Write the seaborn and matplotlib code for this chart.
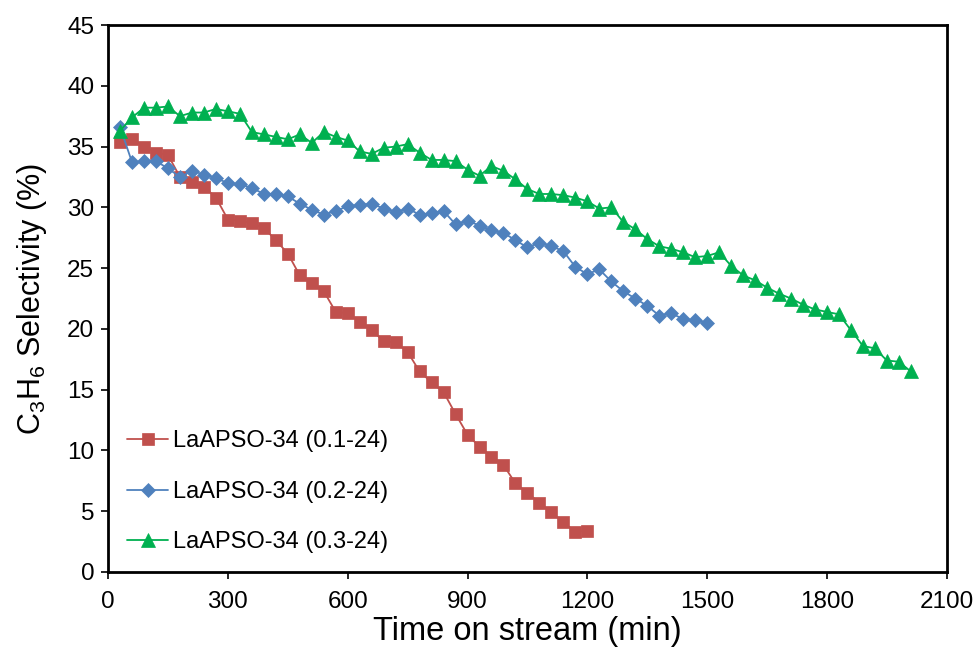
import numpy as np
import pandas as pd
import matplotlib
matplotlib.use("Agg")
import matplotlib.pyplot as plt
import seaborn as sns

# Time on stream (min), sampled every 30 min
time_01 = list(range(30, 1201, 30))
time_02 = list(range(30, 1501, 30))
time_03 = list(range(30, 2011, 30))

# C3H6 selectivity (%)
sel_01 = [35.4, 35.6, 35.0, 34.5, 34.3, 32.5, 32.1, 31.7, 30.8, 29.0,
          28.9, 28.7, 28.3, 27.3, 26.2, 24.4, 23.8, 23.1, 21.4, 21.3,
          20.6, 19.9, 19.0, 18.9, 18.1, 16.5, 15.6, 14.8, 13.0, 11.3,
          10.3, 9.5, 8.8, 7.3, 6.5, 5.7, 4.9, 4.1, 3.3, 3.4]
sel_02 = [36.6, 33.7, 33.8, 33.8, 33.2, 32.5, 33.0, 32.7, 32.4, 32.0,
          31.9, 31.6, 31.1, 31.1, 30.9, 30.3, 29.8, 29.4, 29.7, 30.1,
          30.2, 30.3, 29.9, 29.6, 29.9, 29.4, 29.5, 29.7, 28.6, 28.9,
          28.5, 28.1, 27.9, 27.3, 26.7, 27.1, 26.8, 26.4, 25.1, 24.5,
          24.9, 23.9, 23.1, 22.5, 21.9, 21.1, 21.3, 20.8, 20.7, 20.5]
sel_03 = [36.3, 37.4, 38.2, 38.2, 38.3, 37.5, 37.8, 37.8, 38.1, 37.9,
          37.7, 36.2, 36.0, 35.8, 35.6, 36.0, 35.3, 36.2, 35.8, 35.5,
          34.6, 34.4, 34.9, 35.0, 35.2, 34.5, 33.9, 33.9, 33.8, 33.1,
          32.6, 33.4, 33.0, 32.3, 31.5, 31.1, 31.1, 31.0, 30.8, 30.5,
          29.9, 30.0, 28.8, 28.2, 27.4, 26.8, 26.6, 26.3, 25.9, 26.0,
          26.3, 25.2, 24.4, 24.0, 23.4, 22.9, 22.5, 22.0, 21.6, 21.4,
          21.2, 19.9, 18.6, 18.4, 17.4, 17.3, 16.5]

labels = ["LaAPSO-34 (0.1-24)", "LaAPSO-34 (0.2-24)", "LaAPSO-34 (0.3-24)"]
colors = ["#C0504D", "#4F81BD", "#00B050"]
markers = ["s", "D", "^"]
msizes = [8.5, 7.5, 10]

sns.set_style("white")
plt.rcParams["font.family"] = ["Liberation Sans", "DejaVu Sans"]
plt.rcParams["mathtext.fontset"] = "custom"
plt.rcParams["mathtext.rm"] = "Liberation Sans"
plt.rcParams["mathtext.it"] = "Liberation Sans:italic"
plt.rcParams["mathtext.bf"] = "Liberation Sans:bold"
plt.rcParams["text.color"] = "black"
plt.rcParams["axes.labelcolor"] = "black"

fig = plt.figure(figsize=(9.74, 6.5), dpi=100)
ax = fig.add_axes([0.111, 0.12, 0.861, 0.8415])

series = [(time_01, sel_01), (time_02, sel_02), (time_03, sel_03)]
for (t, s), lab, c, m, ms in zip(series, labels, colors, markers, msizes):
    df = pd.DataFrame({"time": t, "sel": s})
    sns.lineplot(data=df, x="time", y="sel", ax=ax, color=c, marker=m,
                 markersize=ms, markeredgecolor=c, markeredgewidth=0.5,
                 linewidth=1.3, label=lab)

ax.set_xlim(0, 2100)
ax.set_ylim(0, 45)
ax.set_xticks(np.arange(0, 2101, 300))
ax.set_yticks(np.arange(0, 46, 5))
ax.tick_params(axis="both", direction="out", length=5, width=1.2,
               labelsize=17.5, colors="black", bottom=True, left=True)
ax.tick_params(axis="x", pad=9)
ax.tick_params(axis="y", pad=5)
for sp in ax.spines.values():
    sp.set_visible(True)
    sp.set_color("black")
    sp.set_linewidth(2)

ax.set_xlabel("Time on stream (min)", fontsize=23.5, labelpad=2)
ax.set_ylabel(r"C$_\mathrm{3}$H$_\mathrm{6}$ Selectivity (%)", fontsize=22,
              labelpad=13)

ax.legend(loc="lower left", bbox_to_anchor=(0.0, 0.0), frameon=False,
          fontsize=17, handlelength=1.75, labelspacing=1.2,
          handletextpad=0.2, borderaxespad=0.4)

fig.savefig("out.png", dpi=100)
